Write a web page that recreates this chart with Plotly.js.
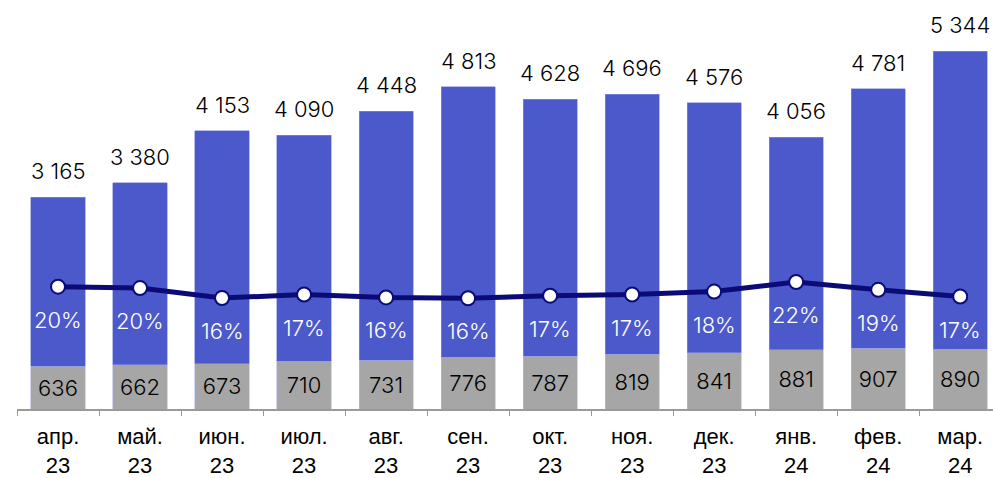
<!DOCTYPE html>
<html>
<head>
<meta charset="utf-8">
<script src="https://cdn.plot.ly/plotly-3.0.1.min.js"></script>
<style>html,body{margin:0;padding:0;background:#fff;overflow:hidden}</style>
</head>
<body>
<div id="chart" style="width:993px;height:478px"></div>
<script>
const categories = ["апр.<br>23","май.<br>23","июн.<br>23","июл.<br>23","авг.<br>23","сен.<br>23","окт.<br>23","ноя.<br>23","дек.<br>23","янв.<br>24","фев.<br>24","мар.<br>24"];
const totals = [3165, 3380, 4153, 4090, 4448, 4813, 4628, 4696, 4576, 4056, 4781, 5344];
const grayValues = [636, 662, 673, 710, 731, 776, 787, 819, 841, 881, 907, 890];
const shareValues = [20.1, 19.6, 16.2, 17.4, 16.4, 16.1, 17.0, 17.4, 18.4, 21.7, 19.0, 16.7];
const shareLabels = ["20%","20%","16%","17%","16%","16%","17%","17%","18%","22%","19%","17%"];

const fmt = v => String(v).replace(/\B(?=(\d{3})+(?!\d))/g, " ");
const blueValues = totals.map((t, i) => t - grayValues[i]);
const labelFont = "Inter, 'Open Sans', sans-serif";

const traces = [
  {
    type: "bar", x: categories, y: grayValues,
    marker: {color: "#a6a6a6", line: {color: "#b9bde8", width: 0.6}},
    text: grayValues.map(fmt), textposition: "inside", insidetextanchor: "middle",
    textangle: 0, constraintext: "none",
    insidetextfont: {family: labelFont, size: 22, color: "#000", weight: 300},
    hoverinfo: "none"
  },
  {
    type: "bar", x: categories, y: blueValues,
    marker: {color: "#4c59cb", line: {color: "#8a92df", width: 0.6}},
    hoverinfo: "none"
  },
  {
    type: "scatter", mode: "lines+markers", x: categories, y: shareValues, yaxis: "y2",
    line: {color: "#0b0b78", width: 5},
    marker: {size: 14, color: "#fff", line: {color: "#0b0b78", width: 2}},
    hoverinfo: "none"
  }
];

const annotations = [];
categories.forEach((c, i) => {
  annotations.push({
    x: c, y: totals[i], xref: "x", yref: "y", text: fmt(totals[i]),
    showarrow: false, yanchor: "bottom", yshift: 11,
    font: {family: labelFont, size: 22, color: "#000", weight: 300}
  });
  annotations.push({
    x: c, y: shareValues[i], xref: "x", yref: "y2", text: shareLabels[i],
    showarrow: false, yanchor: "middle", yshift: -33,
    font: {family: labelFont, size: 22, color: "#fff", weight: 300}
  });
});

const layout = {
  width: 993, height: 478,
  margin: {l: 17, r: 0, t: 10, b: 69},
  barmode: "stack", bargap: 0.34,
  showlegend: false,
  paper_bgcolor: "#fff", plot_bgcolor: "#fff",
  xaxis: {
    type: "category", range: [-0.5, 11.4],
    showline: true, linecolor: "#9a9a9a", linewidth: 1.5,
    ticks: "outside", tickson: "boundaries", ticklen: 5, tickcolor: "#9a9a9a", tickwidth: 1,
    ticklabelstandoff: 7,
    tickfont: {family: "'Liberation Sans', Arial, sans-serif", size: 22, color: "#000"},
    showgrid: false, fixedrange: true
  },
  yaxis: {range: [0, 5957], visible: false, showgrid: false, zeroline: false, fixedrange: true},
  yaxis2: {range: [-21.96, 115.2], overlaying: "y", visible: false, showgrid: false, zeroline: false, fixedrange: true},
  annotations: annotations
};

Plotly.newPlot("chart", traces, layout, {displayModeBar: false, staticPlot: true});
</script>
</body>
</html>
